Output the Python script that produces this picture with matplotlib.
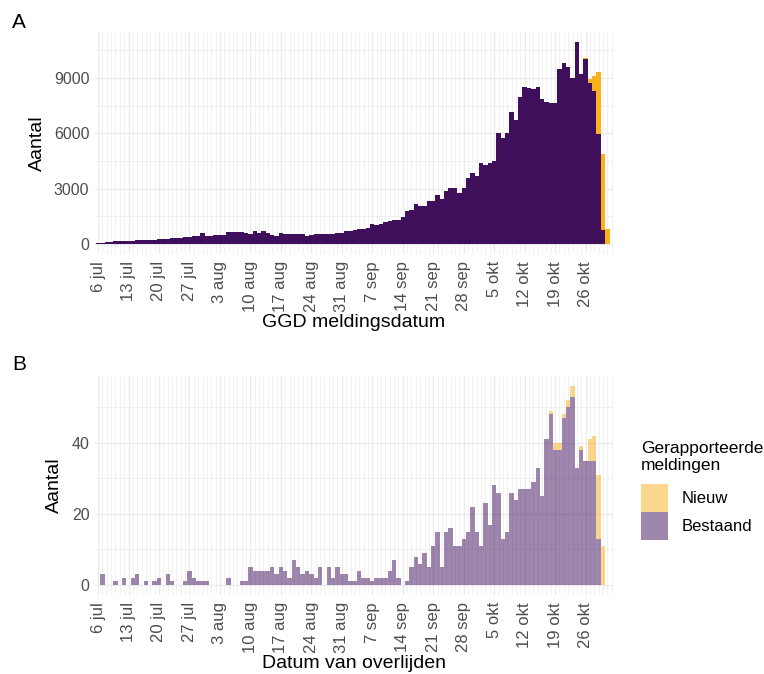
import matplotlib
matplotlib.use("Agg")
import matplotlib.pyplot as plt
import matplotlib.dates as mdates
from matplotlib.patches import Patch
from matplotlib.ticker import FuncFormatter, FixedLocator
import pandas as pd
import numpy as np

plt.rcParams['font.family'] = ['Liberation Sans', 'DejaVu Sans']

# --- data ---
start = "2020-07-06"

# A: GGD meldingsdatum, 6 jul .. 31 okt
cases_bestaand = [
    50, 60, 80, 100, 130, 150, 150, 160, 180, 200, 210, 210, 220, 230,
    250, 250, 260, 300, 320, 340, 360, 380, 450, 430, 570, 400, 400, 490,
    490, 500, 660, 650, 620, 630, 570, 560, 710, 600, 690, 570, 480, 450,
    580, 540, 510, 520, 510, 520, 440, 500, 510, 520, 550, 550, 560, 610,
    600, 680, 680, 750, 820, 800, 860, 1080, 1020, 1100, 1170, 1260, 1290, 1320,
    1480, 1810, 1860, 2140, 2080, 2080, 2320, 2320, 2670, 2450, 2870, 3050, 3050, 2760,
    3050, 3580, 3820, 3690, 4370, 4280, 4400, 4520, 6010, 5740, 6010, 7150, 6750, 7970,
    8540, 8450, 8390, 8520, 7840, 7700, 7660, 7660, 9490, 9800, 9580, 9030, 10950, 9210,
    10020, 8750, 8300, 5940, 770, 0,
]
cases_nieuw = [0] * 112 + [90, 200, 800, 3370, 4130, 820]

# B: datum van overlijden, 6 jul .. 30 okt
deaths_bestaand = [
    0, 3, 0, 0, 1, 0, 2, 0, 2, 3, 0, 1, 0, 1,
    2, 0, 3, 1, 0, 0, 1, 4, 2, 1, 1, 1, 0, 0,
    0, 0, 2, 0, 0, 1, 1, 5, 4, 4, 4, 4, 5, 3,
    5, 4, 2, 7, 5, 3, 4, 3, 2, 5, 0, 5, 2, 5,
    3, 3, 1, 1, 4, 2, 2, 1, 2, 2, 2, 4, 7, 2,
    0, 1, 5, 8, 6, 9, 5, 11, 15, 5, 15, 16, 11, 11,
    13, 15, 22, 15, 11, 23, 17, 28, 26, 13, 15, 26, 24, 27,
    27, 27, 29, 33, 25, 41, 48, 38, 38, 47, 50, 53, 33, 38,
    35, 35, 35, 13, 0,
]
deaths_nieuw = [0] * 104 + [1, 2, 2, 1, 2, 3, 0, 1, 0, 6, 7, 18, 11]

maanden = {7: "jul", 8: "aug", 9: "sep", 10: "okt"}

purple = "#3F0F5B"
yellow = "#F9B11C"
grid_col = "#EBEBEB"
text_col = "#4D4D4D"

days_a = pd.date_range(start, periods=len(cases_bestaand), freq="D")
days_b = pd.date_range(start, periods=len(deaths_bestaand), freq="D")
x0 = mdates.date2num(pd.Timestamp(start))


def nl_date(x, pos=None):
    d = mdates.num2date(x)
    return f"{d.day} {maanden[d.month]}"


def style_axes(ax, ymajor, yminor, ylim, xlabel):
    ax.set_xlim(x0 - 0.7, x0 + 118.3)
    ax.set_ylim(*ylim)
    ax.xaxis.set_major_locator(mdates.WeekdayLocator(byweekday=mdates.MO))
    ax.xaxis.set_minor_locator(mdates.DayLocator())
    ax.xaxis.set_major_formatter(FuncFormatter(nl_date))
    ax.yaxis.set_major_locator(FixedLocator(ymajor))
    ax.yaxis.set_minor_locator(FixedLocator(yminor))
    ax.grid(which="major", color=grid_col, linewidth=1.0)
    ax.grid(which="minor", color=grid_col, linewidth=0.5)
    ax.set_axisbelow(True)
    for s in ax.spines.values():
        s.set_visible(False)
    ax.tick_params(which="both", length=0)
    ax.tick_params(axis="x", labelrotation=90, labelsize=12, labelcolor=text_col, pad=5)
    ax.tick_params(axis="y", labelsize=11.5, labelcolor=text_col, pad=4)
    for lbl in ax.get_xticklabels():
        lbl.set_horizontalalignment("center")
    ax.set_ylabel("Aantal", fontsize=14, labelpad=6)
    ax.set_xlabel(xlabel, fontsize=14, labelpad=1)


fig = plt.figure(figsize=(7.64, 6.74), dpi=100)

# --- A ---
axA = fig.add_axes([95 / 764, 1 - 254 / 674, 518 / 764, 222 / 674])
axA.bar(days_a, cases_bestaand, width=1.0, color=purple, linewidth=0)
axA.bar(days_a, cases_nieuw, bottom=cases_bestaand, width=1.0, color=yellow, linewidth=0)
style_axes(axA, [0, 3000, 6000, 9000], [1500, 4500, 7500, 10500], (-550, 11500),
           "GGD meldingsdatum")

# --- B ---
axB = fig.add_axes([95 / 764, 1 - 595 / 674, 518 / 764, 219 / 674])
axB.bar(days_b, deaths_bestaand, width=1.0, color=purple, alpha=0.5, linewidth=0)
axB.bar(days_b, deaths_nieuw, bottom=deaths_bestaand, width=1.0, color=yellow,
        alpha=0.5, linewidth=0)
style_axes(axB, [0, 20, 40], [10, 30, 50], (-2.8, 58.8), "Datum van overlijden")

fig.text(12 / 764, 1 - 22 / 674, "A", fontsize=15, va="center", ha="left")
fig.text(12 / 764, 1 - 365 / 674, "B", fontsize=15, va="center", ha="left")

# legend, squares touching like ggplot keys
handles = [Patch(facecolor=yellow, alpha=0.5, edgecolor="none"),
           Patch(facecolor=purple, alpha=0.5, edgecolor="none")]
leg = fig.legend(handles, ["Nieuw", "Bestaand"], title="Gerapporteerde\nmeldingen",
                 loc="upper left", bbox_to_anchor=(634 / 764, 1 - 434 / 674),
                 frameon=False, fontsize=12, title_fontsize=12.5,
                 handlelength=1.65, handleheight=2.2, labelspacing=0.0,
                 handletextpad=0.8, borderaxespad=0)
leg._legend_box.align = "left"
leg._legend_box.sep = 8

fig.savefig("out.png", dpi=100)
